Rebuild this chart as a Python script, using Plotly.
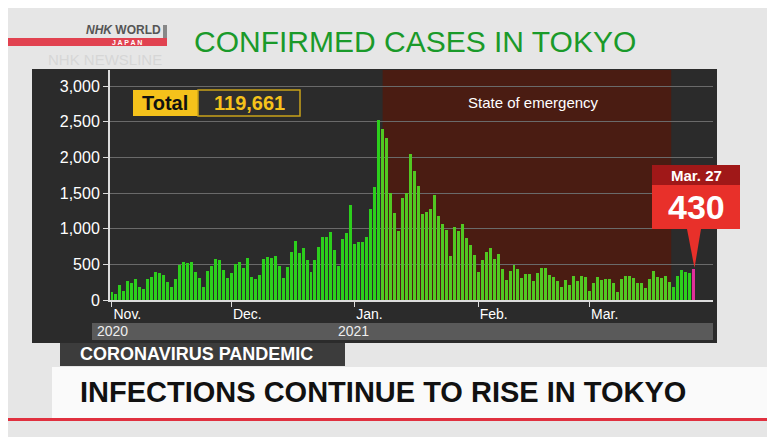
import plotly.graph_objects as go
import pandas as pd

nov = [116,87,209,122,269,242,294,189,157,293,317,393,374,352,255,180,298,493,534,522,539,391,314,186,401,481,570,561,418,311]
dec = [372,500,533,449,584,327,299,352,572,602,595,621,480,305,460,678,822,664,736,556,392,563,748,888,884,949,708,481,856,944,1337]
jan = [783,814,816,884,1278,1591,2520,2392,2268,1494,1219,970,1433,1502,2044,1809,1592,1204,1240,1274,1471,1175,1070,986,618,1026,973,1064,868,769,633]
feb = [393,556,676,734,577,639,429,276,412,491,434,307,369,371,266,378,445,445,353,327,272,178,275,213,340,270,337,329]
mar = [121,232,316,279,301,293,237,116,290,340,335,304,239,239,175,300,409,323,303,342,256,187,337,420,394,376,430]
values = nov + dec + jan + feb + mar
dates = pd.date_range("2020-11-01", periods=len(values), freq="D")
month_ticks = ["2020-11-01", "2020-12-01", "2021-01-01", "2021-02-01", "2021-03-01"]
month_labels = ["Nov.", "Dec.", "Jan.", "Feb.", "Mar."]
y_ticks = [0, 500, 1000, 1500, 2000, 2500, 3000]
y_labels = ["0", "500", "1,000", "1,500", "2,000", "2,500", "3,000"]
emergency = ["2021-01-08", "2021-03-21"]

colors = []
for d in dates:
    if d == dates[-1]:
        colors.append("#e0309a")
    elif pd.Timestamp(emergency[0]) <= d <= pd.Timestamp(emergency[1]):
        colors.append("#52c822")
    else:
        colors.append("#2ccf1c")

OFF = 8  # page body margin
W, H = 775 - OFF, 437 - OFF
L, R, T, B = 110, 713, 70, 300
def px(x): return (x - L) / (R - L)
def py(y): return (B - y) / (B - T)

fig = go.Figure(go.Bar(x=dates, y=values, marker=dict(color=colors, line=dict(width=0)), width=86400000*0.75))

shapes = []
shapes.append(dict(type="rect", xref="paper", yref="paper", x0=px(32), x1=px(717), y0=py(343), y1=py(69), fillcolor="#2b2b2b", line_width=0, layer="below"))
shapes.append(dict(type="rect", xref="paper", yref="paper", x0=px(92), x1=px(713), y0=py(340), y1=py(323), fillcolor="#5a5a5a", line_width=0, layer="below"))
shapes.append(dict(type="rect", xref="x", yref="paper", x0=emergency[0], x1=pd.Timestamp(emergency[1]) + pd.Timedelta(hours=12), y0=0, y1=1, fillcolor="#4a1c12", line_width=0, layer="below"))
shapes.append(dict(type="rect", xref="paper", yref="paper", x0=px(0), x1=px(167), y0=py(46), y1=py(38), fillcolor="#e0303f", line_width=0, opacity=0.9))
shapes.append(dict(type="rect", xref="paper", yref="paper", x0=px(163), x1=px(167), y0=py(38), y1=py(25), fillcolor="#888888", line_width=0))
shapes.append(dict(type="rect", xref="paper", yref="paper", x0=px(133), x1=px(198), y0=py(116), y1=py(90), fillcolor="#f5c21b", line_width=0))
shapes.append(dict(type="rect", xref="paper", yref="paper", x0=px(198), x1=px(300), y0=py(116), y1=py(90), fillcolor="#2e2e2e", line=dict(color="#c9a21a", width=1.5)))
shapes.append(dict(type="rect", xref="paper", yref="paper", x0=px(652), x1=px(740), y0=py(185), y1=py(165), fillcolor="#a01818", line_width=0))
shapes.append(dict(type="rect", xref="paper", yref="paper", x0=px(652), x1=px(740), y0=py(229), y1=py(185), fillcolor="#e8302a", line_width=0))
shapes.append(dict(type="path", xref="paper", yref="paper",
                   path=f"M {px(687)} {py(229)} L {px(701)} {py(229)} L {px(694.5)} {py(268)} Z", fillcolor="#e8302a", line_width=0))
shapes.append(dict(type="rect", xref="paper", yref="paper", x0=px(60), x1=px(345), y0=py(366), y1=py(343), fillcolor="#3c3c3c", line_width=0))
shapes.append(dict(type="rect", xref="paper", yref="paper", x0=px(52), x1=px(775), y0=py(418), y1=py(367), fillcolor="#fafafa", line_width=0))
shapes.append(dict(type="rect", xref="paper", yref="paper", x0=px(0), x1=px(775), y0=py(421), y1=py(418), fillcolor="#e0303f", line_width=0))

def ann(x, y, text, size, color, bold=True, xanchor="center", family="Liberation Sans, Arial"):
    t = f"<b>{text}</b>" if bold else text
    return dict(xref="paper", yref="paper", x=px(x), y=py(y), text=t, showarrow=False,
                font=dict(size=size, color=color, family=family), xanchor=xanchor, yanchor="middle")

anns = [
    ann(415, 41, "CONFIRMED CASES IN TOKYO", 30, "#1a9a2a", bold=False),
    ann(123, 30, "<i>NHK</i> WORLD", 12, "#555555"),
    ann(127, 42, "J A P A N", 7, "#ffffff"),
    ann(105, 59, "NHK NEWSLINE", 15, "#d6d6d6", bold=False),
    ann(165, 103, "Total", 20, "#111111"),
    ann(249, 103, "119,661", 20, "#f5c21b"),
    ann(533, 103, "State of emergency", 15, "#ffffff", bold=False),
    ann(696, 175, "Mar. 27", 15, "#ffffff"),
    ann(696, 207, "430", 34, "#ffffff"),
    ann(95, 331, "2020", 14, "#eeeeee", bold=False, xanchor="left"),
    ann(336, 331, "2021", 14, "#eeeeee", bold=False, xanchor="left"),
    ann(78, 354, "CORONAVIRUS PANDEMIC", 18, "#ffffff", xanchor="left"),
    ann(78, 392, "INFECTIONS CONTINUE TO RISE IN TOKYO", 29, "#111111", xanchor="left"),
]

fig.update_layout(
    width=W, height=H, margin=dict(l=L - OFF, r=775 - R, t=T - OFF, b=437 - B),
    paper_bgcolor="#e6e6e6", plot_bgcolor="#050505", showlegend=False,
    shapes=shapes, annotations=anns, bargap=0,
    xaxis=dict(range=["2020-10-31 12:00", "2021-04-01"], tickvals=month_ticks, ticktext=month_labels,
               ticks="outside", ticklen=5, tickcolor="#dddddd", showgrid=False,
               tickfont=dict(size=14, color="#ffffff", family="Liberation Sans, Arial"),
               showline=True, linecolor="#dddddd", linewidth=2, ticklabelposition="outside right"),
    yaxis=dict(range=[0, 3225], tickvals=y_ticks, ticktext=y_labels, ticks="outside", ticklen=5,
               tickcolor="#dddddd", gridcolor="#6a6a6a", gridwidth=1,
               tickfont=dict(size=16, color="#ffffff", family="Liberation Sans, Arial"),
               showline=True, linecolor="#dddddd", linewidth=2, zeroline=False),
)
fig.write_html("out.html")
